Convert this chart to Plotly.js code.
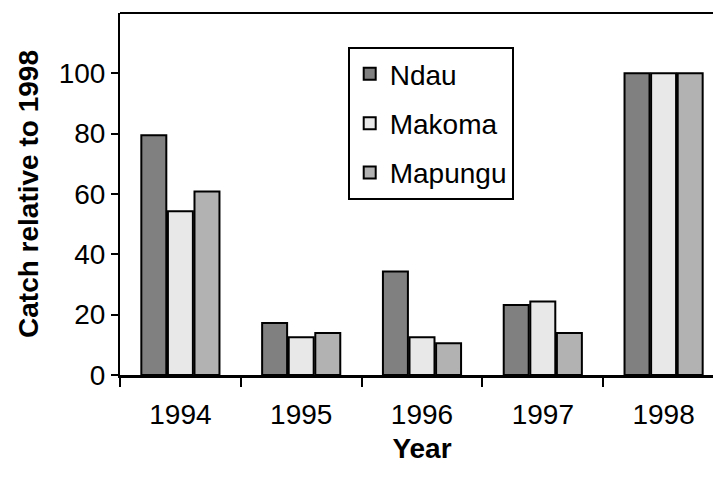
<!DOCTYPE html>
<html>
<head>
<meta charset="utf-8">
<script src="https://cdn.plot.ly/plotly-3.0.1.min.js"></script>
<style>
html,body{margin:0;padding:0;overflow:hidden;background:#fff;}
#chart{width:730px;height:486px;}
</style>
</head>
<body>
<div id="chart"></div>
<script>
const years = ["1994", "1995", "1996", "1997", "1998"];
const seriesNames = ["Ndau", "Makoma", "Mapungu"];
const ndau = [79.5, 17.2, 34.3, 23.2, 100];
const makoma = [54.3, 12.5, 12.5, 24.4, 100];
const mapungu = [60.8, 13.9, 10.5, 13.9, 100];
const colors = ["#808080", "#e8e8e8", "#b2b2b2"];
const yTicks = [0, 20, 40, 60, 80, 100];

const values = [ndau, makoma, mapungu];
const traces = seriesNames.map((name, i) => ({
  type: "bar",
  name: name,
  x: years,
  y: values[i],
  legendgroup: name,
  marker: {color: colors[i], line: {color: "#000", width: 2}},
  hoverinfo: "x+y+name"
}));

const font = "Liberation Sans, Arial, sans-serif";
const layout = {
  width: 730,
  height: 486,
  autosize: false,
  margin: {l: 120, r: 6, t: 13, b: 111},
  paper_bgcolor: "#fff",
  plot_bgcolor: "#fff",
  font: {family: font, color: "#000", size: 28},
  barmode: "group",
  bargap: 0.34,
  bargroupgap: 0.06,
  showlegend: true,
  legend: {
    x: 0.377, y: 0.906, xanchor: "left", yanchor: "top",
    bordercolor: "#000", borderwidth: 2, bgcolor: "rgba(255,255,255,0)",
    font: {family: font, size: 28, color: "#000"},
    traceorder: "grouped", tracegroupgap: 10,
    itemwidth: 30, entrywidth: 110, entrywidthmode: "pixels"
  },
  xaxis: {
    type: "category",
    showline: true, linecolor: "#000", linewidth: 3,
    ticks: "outside", tickson: "boundaries", ticklen: 9, tickwidth: 2, tickcolor: "#000",
    tickfont: {family: font, size: 28},
    ticklabelstandoff: 12,
    showgrid: false, zeroline: false,
    title: {text: "<b>Year</b>", font: {family: font, size: 28}, standoff: 10}
  },
  yaxis: {
    range: [0, 120],
    tickvals: yTicks,
    showline: true, linecolor: "#000", linewidth: 2,
    ticks: "outside", ticklen: 7, tickwidth: 2, tickcolor: "#000",
    tickfont: {family: font, size: 28},
    showgrid: false, zeroline: false,
    title: {text: "<b>Catch relative to 1998</b>", font: {family: font, size: 28}, standoff: 12}
  },
  shapes: [{
    type: "line", xref: "paper", yref: "paper", x0: 0, x1: 1, y0: 1, y1: 1,
    line: {color: "#000", width: 2}
  }]
};

Plotly.newPlot("chart", traces, layout, {displayModeBar: false, staticPlot: true});
</script>
</body>
</html>
